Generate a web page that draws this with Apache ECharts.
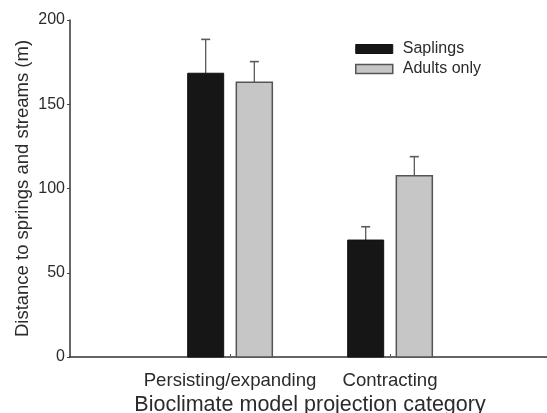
<!DOCTYPE html>
<html>
<head>
<meta charset="utf-8">
<script src="https://cdn.jsdelivr.net/npm/echarts@6/dist/echarts.min.js"></script>
<style>
  html, body { margin: 0; padding: 0; background: #fff; }
  #chart { width: 547px; height: 413px; }
</style>
</head>
<body>
<div id="chart"></div>
<script>
// Mean distance to springs and streams, with upper standard-error whiskers
const categories = ['Persisting/expanding', 'Contracting'];
const saplings = [168.4, 69.4];
const saplingsErr = [20.1, 7.9];
const adults = [163.0, 107.6];
const adultsErr = [12.3, 11.3];
const yTicks = [0, 50, 100, 150, 200];

const FONT = '"Liberation Sans", Arial, Helvetica, sans-serif';
const INK = '#2b2b2b';

// bar geometry in x-axis units (one category per unit)
const BAR_W = 0.225;
const BAR_OFF = 0.152;

function makeRender(offset, fill, stroke, strokeW) {
  return function (params, api) {
    const xc = api.value(0) + offset;
    const v = api.value(1);
    const e = api.value(2);
    const tl = api.coord([xc - BAR_W / 2, v]);
    const br = api.coord([xc + BAR_W / 2, 0]);
    const c = api.coord([xc, v]);
    const et = api.coord([xc, v + e]);
    return {
      type: 'group',
      children: [
        {
          type: 'line',
          shape: { x1: c[0], y1: c[1], x2: et[0], y2: et[1] },
          style: { stroke: '#5a5a5a', lineWidth: 1.3 }
        },
        {
          type: 'line',
          shape: { x1: et[0] - 4.5, y1: et[1], x2: et[0] + 4.5, y2: et[1] },
          style: { stroke: '#5a5a5a', lineWidth: 1.6 }
        },
        {
          type: 'rect',
          shape: { x: tl[0], y: tl[1], width: br[0] - tl[0], height: br[1] - tl[1] },
          style: { fill: fill, stroke: stroke, lineWidth: strokeW }
        }
      ]
    };
  };
}

const saplingData = categories.map((c, i) => [i + 1, saplings[i], saplingsErr[i]]);
const adultData = categories.map((c, i) => [i + 1, adults[i], adultsErr[i]]);

const chart = echarts.init(document.getElementById('chart'), null, { renderer: 'canvas' });
chart.setOption({
  animation: false,
  backgroundColor: '#fff',
  textStyle: { fontFamily: FONT },
  grid: { left: 70, top: 20, width: 480, height: 337, containLabel: false, outerBoundsMode: 'none' },
  legend: {
    orient: 'vertical',
    left: 355,
    top: 41,
    padding: 0,
    itemWidth: 37,
    itemHeight: 9,
    itemGap: 4,
    textStyle: { fontFamily: FONT, fontSize: 16, color: INK, padding: [0, 0, 0, 5] },
    data: [
      { name: 'Saplings', icon: 'rect', itemStyle: { color: '#161616', borderColor: '#111', borderWidth: 1 } },
      { name: 'Adults only', icon: 'rect', itemStyle: { color: '#c6c6c6', borderColor: '#555', borderWidth: 1.5 } }
    ]
  },
  xAxis: {
    type: 'value',
    min: 0,
    max: categories.length + 1,
    interval: 1,
    name: 'Bioclimate model projection category',
    nameLocation: 'middle',
    nameMoveOverlap: false,
    nameGap: 37,
    nameTextStyle: { fontFamily: FONT, fontSize: 21.5, color: INK },
    splitLine: { show: false },
    axisLine: { show: true, lineStyle: { color: '#333', width: 1.5 } },
    axisTick: {
      show: true, inside: true, length: 3,
      customValues: categories.map((c, i) => i + 1),
      lineStyle: { color: '#555', width: 1 }
    },
    axisLabel: {
      show: true,
      customValues: categories.map((c, i) => i + 1),
      formatter: v => categories[Math.round(v) - 1] || '',
      margin: 14,
      fontFamily: FONT, fontSize: 18.6, color: INK
    }
  },
  yAxis: {
    type: 'value',
    min: yTicks[0],
    max: yTicks[yTicks.length - 1],
    interval: 50,
    name: 'Distance to springs and streams (m)',
    nameLocation: 'middle',
    nameMoveOverlap: false,
    nameGap: 38,
    nameTextStyle: { fontFamily: FONT, fontSize: 18.5, color: INK },
    splitLine: { show: false },
    axisLine: { show: true, lineStyle: { color: '#333', width: 1.5 } },
    axisTick: { show: true, inside: false, length: 3, lineStyle: { color: '#444', width: 1 } },
    axisLabel: { margin: 5, fontFamily: FONT, fontSize: 16, color: INK }
  },
  series: [
    {
      name: 'Saplings',
      type: 'custom',
      itemStyle: { color: '#161616' },
      renderItem: makeRender(-BAR_OFF, '#161616', '#111', 1),
      encode: { x: 0, y: [1, 2] },
      data: saplingData
    },
    {
      name: 'Adults only',
      type: 'custom',
      itemStyle: { color: '#c6c6c6' },
      renderItem: makeRender(BAR_OFF, '#c6c6c6', '#555', 1.5),
      encode: { x: 0, y: [1, 2] },
      data: adultData
    }
  ]
});
</script>
</body>
</html>
